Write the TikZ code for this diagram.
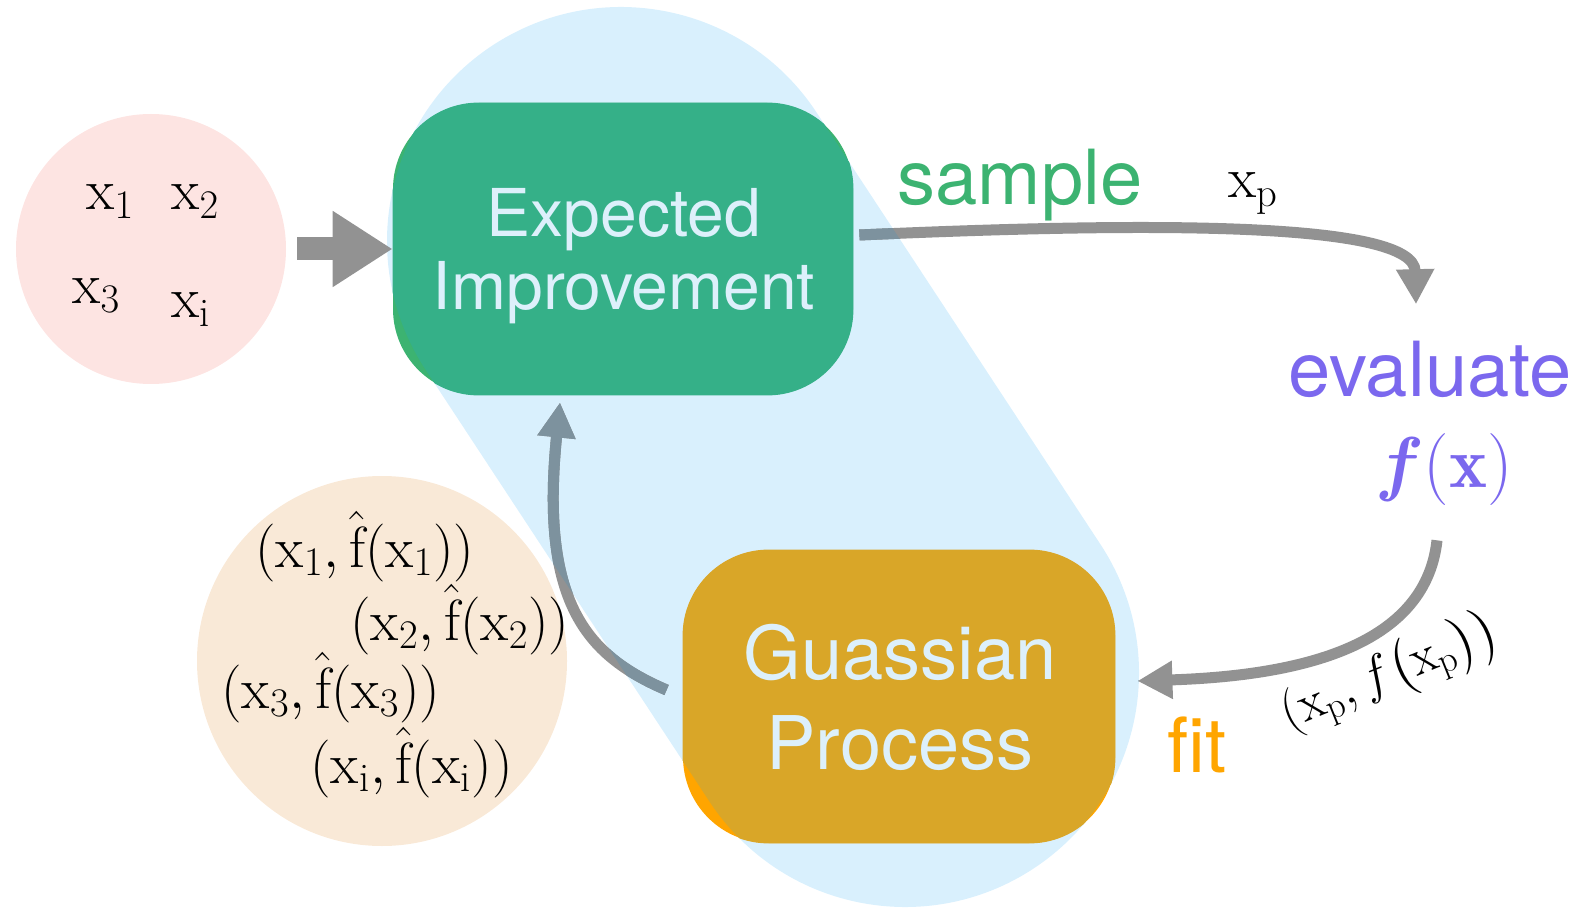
\RequirePackage{fix-cm}
\documentclass[tikz,border=0pt]{standalone}
\usepackage{amsmath}
\usepackage{bm}
\usepackage{fontspec}
\setsansfont{TeX Gyre Heros}
\usetikzlibrary{arrows.meta,calc}

\definecolor{pinkfill}{HTML}{FDE4E2}
\definecolor{peachfill}{HTML}{F9E9D7}
\definecolor{capsulefill}{HTML}{D9F0FD}
\definecolor{eigreen}{HTML}{3CB371}
\definecolor{eiteal}{HTML}{35B088}
\definecolor{gporange}{HTML}{FFA500}
\definecolor{gpmustard}{HTML}{D9A628}
\definecolor{boxtext}{HTML}{DDF0FB}
\definecolor{evalpurple}{HTML}{7B68EE}
\definecolor{arrowgray}{HTML}{929292}
\definecolor{arrowtint}{HTML}{7D929E}

% the three curved connectors of the loop, drawn in a given colour
\newcommand\flowarrows[1]{%
  \draw[flow,#1] ([shift={(6,-14)}]EI.east)
    .. controls +(291,-13) and +(-2,-83) .. ([shift={(-14,-37)}]ev.north);
  \draw[flow,#1] ([shift={(-7,35)}]fx.south)
    .. controls +(-12,110) and +(153,-5) .. ([shift={(22,-15.5)}]GP.east);
  \draw[flow,#1] ([shift={(-16,-6.5)}]GP.west)
    .. controls +(-82,-35) and +(-20,198) .. ([shift={(-63,7)}]EI.south);
}

\tikzset{
  flow/.style={line width=5.5pt, -{Triangle[length=17.5pt,width=18pt]}},
  blob/.style={circle, inner sep=0pt},
  procbox/.style={rectangle, rounded corners=43pt, inner sep=0pt},
  boxlabel/.style={inner sep=0pt, anchor=base, text=boxtext,
    font=\sffamily\fontsize{33}{36}\selectfont},
  gplabel/.style={boxlabel, font=\sffamily\fontsize{37}{40}\selectfont},
  verb/.style={inner sep=0pt, anchor=base, font=\sffamily\fontsize{38}{42}\selectfont},
  mathlbl/.style={inner sep=0pt, font=\fontsize{29}{34}\selectfont},
}

\begin{document}
\begin{tikzpicture}[x=0.5pt, y=-0.5pt]
\useasboundingbox (0,0) rectangle (1582,908);

% initial points
\node[blob, fill=pinkfill, minimum size=135pt] (pink) at (151,249) {};
\node[mathlbl, anchor=base west] (x1) at (86,210) {$\mathrm{x}_1$};
\node[mathlbl, anchor=base west] (x2) at (171,210) {$\mathrm{x}_2$};
\node[mathlbl, anchor=base west] (x3) at (72,304) {$\mathrm{x}_3$};
\node[mathlbl, anchor=base west] (xi) at (171,318) {$\mathrm{x}_\mathrm{i}$};

% observed data
\node[blob, fill=peachfill, minimum size=185pt] (peach) at (382,661) {};
\node[mathlbl, anchor=base west] (d1) at (255,567) {$(\mathrm{x}_1,\hat{\mathrm{f}}(\mathrm{x}_1))$};
\node[mathlbl, anchor=base west] (d2) at (350,640) {$(\mathrm{x}_2,\hat{\mathrm{f}}(\mathrm{x}_2))$};
\node[mathlbl, anchor=base west] (d3) at (221,708) {$(\mathrm{x}_3,\hat{\mathrm{f}}(\mathrm{x}_3))$};
\node[mathlbl, anchor=base west] (d4) at (310,783) {$(\mathrm{x}_\mathrm{i},\hat{\mathrm{f}}(\mathrm{x}_\mathrm{i}))$};

% step labels
\node[verb, text=eigreen] (sample) at (1020,205) {sample};
\node[mathlbl, anchor=base west] (xp) at (1228,198) {$\mathrm{x}_\mathrm{p}$};
\node[verb, text=evalpurple] (ev) at (1430,397) {evaluate};
\node[inner sep=0pt, anchor=base, text=evalpurple, font=\fontsize{36}{40}\selectfont]
  (fx) at (1444,487) {$\bm{f}(\mathbf{x})$};
\node[verb, text=gporange] (fit) at (1197,772) {fit};
\node[mathlbl, font=\fontsize{26}{30}\selectfont, rotate=22] (pair) at (1390,674)
  {$(\mathrm{x}_\mathrm{p}, f\bigl(\mathrm{x}_\mathrm{p}\bigr)\bigr)$};

% the surrogate loop backdrop
\coordinate (c1) at (621,241);
\coordinate (c2) at (905,673);
\fill[capsulefill] ($(c1)+(146.7:234)$) -- ($(c2)+(146.7:234)$)
  arc[start angle=146.7, end angle=-33.3, radius=234]
  -- ($(c1)+(-33.3:234)$)
  arc[start angle=-33.3, end angle=-213.3, radius=234] -- cycle;

% process boxes
\node[procbox, fill=eigreen, minimum width=230pt, minimum height=146pt] (EI) at (623,249) {};
\node[procbox, fill=gporange, minimum width=216pt, minimum height=146.5pt] (GP) at (899,696.5) {};

% start arrow
\draw[arrowgray, line width=11.5pt, -{Triangle[length=30pt,width=36pt]}]
  ([xshift=5.5pt]pink.east) -- (EI.west);

\flowarrows{arrowgray}

% tinted parts inside the backdrop
\begin{scope}
  \clip ($(c1)+(146.7:234)$) -- ($(c2)+(146.7:234)$)
    arc[start angle=146.7, end angle=-33.3, radius=234]
    -- ($(c1)+(-33.3:234)$)
    arc[start angle=-33.3, end angle=-213.3, radius=234] -- cycle;
  \fill[eiteal, rounded corners=43pt] (EI.south west) rectangle (EI.north east);
  \fill[gpmustard, rounded corners=43pt] (GP.south west) rectangle (GP.north east);
  \flowarrows{arrowtint}
\end{scope}

% box texts
\node[boxlabel] (EIa) at ($(EI.center)+(1,-12)$) {Expected};
\node[boxlabel] (EIb) at ($(EI.center)+(1,61)$) {Improvement};
\node[gplabel] (GPa) at ($(GP.center)+(1,-17.5)$) {Guassian};
\node[gplabel] (GPb) at ($(GP.center)+(1,72.5)$) {Process};
\end{tikzpicture}
\end{document}
